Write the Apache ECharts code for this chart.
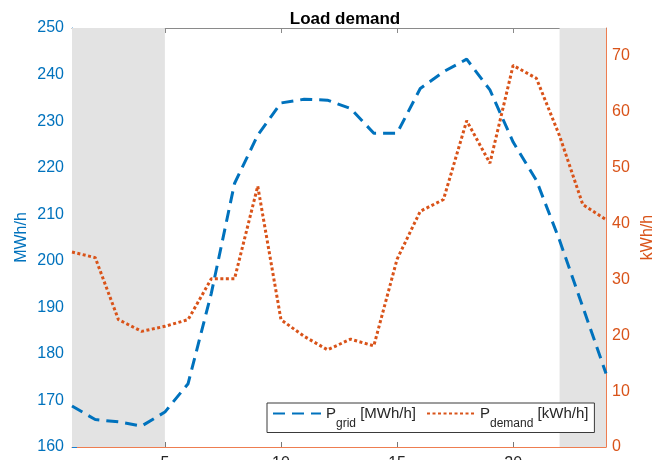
<!DOCTYPE html>
<html>
<head>
<meta charset="utf-8">
<script src="https://cdn.jsdelivr.net/npm/echarts@6/dist/echarts.min.js"></script>
<style>
  html, body { margin: 0; padding: 0; background: #fff; }
  #chart { width: 670px; height: 460px; }
</style>
</head>
<body>
<div id="chart"></div>
<script>
// Hour of day (1..24)
const hours = [1, 2, 3, 4, 5, 6, 7, 8, 9, 10, 11, 12, 13, 14, 15, 16, 17, 18, 19, 20, 21, 22, 23, 24];
// Grid power [MWh/h], left axis
const gridMWh = [168.8, 165.9, 165.4, 164.5, 167.5, 173.6, 193.0, 216.6, 227.0, 233.9, 234.7, 234.5,
                 232.7, 227.4, 227.4, 237.0, 240.6, 243.3, 236.7, 225.5, 217.3, 204.4, 190.1, 175.8];
// Demand power [kWh/h], right axis
const demandKWh = [34.9, 33.9, 22.8, 20.7, 21.6, 22.8, 30.1, 30.1, 46.7, 22.8, 19.8, 17.4,
                   19.3, 18.1, 33.6, 42.2, 44.3, 58.4, 50.8, 68.3, 66.0, 55.7, 43.4, 40.7];
// Shaded night-time hour spans
const nightSpans = [[1, 5], [22, 24]];
// Tick values
const xTicks = [5, 10, 15, 20];
const leftTicks = [160, 170, 180, 190, 200, 210, 220, 230, 240, 250];
const rightTicks = [0, 10, 20, 30, 40, 50, 60, 70];

const BLUE = '#0072BD';
const ORANGE = '#D95319';
const FONT = '"Liberation Sans", Arial, sans-serif';

const chart = echarts.init(document.getElementById('chart'), null, { renderer: 'canvas' });

// Legend text with subscripts
const subRich = {
  p: { fontSize: 15, fontFamily: FONT, color: '#262626', verticalAlign: 'middle', lineHeight: 20 },
  s: { fontSize: 12, fontFamily: FONT, color: '#262626', verticalAlign: 'bottom', lineHeight: 20, padding: [0, 0, -6, 0] }
};

chart.setOption({
  animation: false,
  backgroundColor: '#fff',
  title: {
    text: 'Load demand',
    left: 340, textAlign: 'center',
    top: 6,
    textStyle: { fontFamily: FONT, fontSize: 17, fontWeight: 'bold', color: '#000' }
  },
  grid: { left: 72, right: 64, top: 28, bottom: 13, outerBoundsMode: 'none', containLabel: false },
  legend: {
    orient: 'horizontal',
    left: 267, top: 403,
    padding: [3, 6, 3, 5],
    itemWidth: 48, itemHeight: 10, itemGap: 10,
    backgroundColor: '#fff',
    borderColor: '#3a3a3a', borderWidth: 1,
    itemStyle: { opacity: 0 },
    data: ['grid', 'demand'],
    formatter: function (name) {
      return name === 'grid' ? '{p|P}{s|grid}{p| [MWh/h]}' : '{p|P}{s|demand}{p| [kWh/h]}';
    },
    textStyle: { rich: subRich }
  },
  xAxis: [
    {
      type: 'value', min: 1, max: 24, position: 'bottom',
      axisLine: { show: true, lineStyle: { color: '#ee7d50', width: 1 } },
      axisTick: { show: true, inside: true, length: 5, customValues: xTicks, lineStyle: { color: '#777' } },
      axisLabel: { customValues: xTicks, fontFamily: FONT, fontSize: 16, color: '#262626', margin: 9 },
      splitLine: { show: false }
    },
    {
      type: 'value', min: 1, max: 24, position: 'top',
      axisLine: { show: true, lineStyle: { color: '#8a8a8a', width: 1 } },
      axisTick: { show: true, inside: true, length: 5, customValues: xTicks, lineStyle: { color: '#8a8a8a' } },
      axisLabel: { show: false },
      splitLine: { show: false }
    }
  ],
  yAxis: [
    {
      type: 'value', min: 160, max: 250, interval: 10, position: 'left',
      name: 'MWh/h', nameLocation: 'middle', nameRotate: 90, nameGap: 42, nameMoveOverlap: false,
      nameTextStyle: { color: BLUE, fontFamily: FONT, fontSize: 16 },
      axisLine: { show: true, lineStyle: { color: '#1a7fd0', width: 1 } },
      axisTick: { show: true, inside: true, length: 5, lineStyle: { color: '#1a7fd0' } },
      axisLabel: { customValues: leftTicks, color: BLUE, fontFamily: FONT, fontSize: 16, margin: 8 },
      splitLine: { show: false }
    },
    {
      type: 'value', min: 0, max: 75, interval: 10, position: 'right',
      name: 'kWh/h', nameLocation: 'middle', nameRotate: 90, nameGap: 34, nameMoveOverlap: false,
      nameTextStyle: { color: ORANGE, fontFamily: FONT, fontSize: 16 },
      axisLine: { show: true, lineStyle: { color: '#ee7d50', width: 1 } },
      axisTick: { show: true, inside: true, length: 5, customValues: rightTicks, lineStyle: { color: '#ee7d50' } },
      axisLabel: { customValues: rightTicks, color: ORANGE, fontFamily: FONT, fontSize: 16, margin: 6 },
      splitLine: { show: false }
    }
  ],
  series: [
    {
      name: 'grid', type: 'line', xAxisIndex: 0, yAxisIndex: 0,
      data: hours.map((h, i) => [h, gridMWh[i]]),
      showSymbol: false, symbol: 'none',
      lineStyle: { color: BLUE, width: 3, type: [12, 7], cap: 'butt' },
      itemStyle: { color: BLUE },
      z: 3,
      markArea: {
        silent: true,
        itemStyle: { color: '#e3e3e3' },
        data: nightSpans.map(s => [{ xAxis: s[0] }, { xAxis: s[1] }])
      }
    },
    {
      name: 'demand', type: 'line', xAxisIndex: 0, yAxisIndex: 1,
      data: hours.map((h, i) => [h, demandKWh[i]]),
      showSymbol: false, symbol: 'none',
      lineStyle: { color: ORANGE, width: 3, type: [3, 2.5], cap: 'butt' },
      itemStyle: { color: ORANGE },
      z: 3
    }
  ]
});
</script>
</body>
</html>
